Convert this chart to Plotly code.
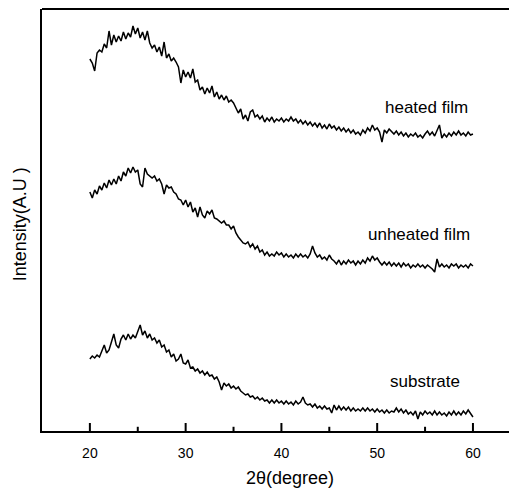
# XRD patterns: substrate vs unheated / heated film
# values (intensity in arbitrary units)
import plotly.graph_objects as go

# 2-theta grid, 20 -> 60 deg in 0.25 deg steps
two_theta = [20 + 0.25 * i for i in range(161)]

heated_film = [
    372, 368, 360, 378, 381, 379, 387, 383, 400, 386, 396, 389, 395, 390, 399, 392,
    398, 394, 405, 397, 403, 393, 399, 391, 400, 388, 383, 386, 379, 384, 375, 389,
    373, 377, 370, 373, 369, 364, 348, 361, 354, 359, 353, 362, 349, 351, 341, 344,
    337, 343, 338, 345, 334, 339, 332, 336, 331, 335, 329, 331, 328, 323, 318, 322,
    312, 316, 310, 319, 321, 314, 316, 312, 315, 309, 313, 310, 314, 309, 312, 310,
    313, 309, 312, 310, 314, 310, 312, 308, 311, 307, 310, 306, 309, 305, 308, 304,
    308, 303, 306, 302, 307, 303, 305, 301, 304, 300, 303, 299, 302, 298, 301, 297,
    299, 296, 301, 298, 303, 300, 306, 301, 303, 299, 289, 301, 298, 302, 299, 297,
    300, 296, 299, 295, 298, 294, 297, 295, 298, 294, 296, 293, 297, 300, 296, 299,
    295, 300, 306, 293, 297, 294, 298, 295, 299, 296, 300, 296, 298, 295, 299, 296,
    297,
]

unheated_film = [
    239, 233, 241, 237, 245, 241, 248, 243, 251, 246, 252, 247, 255, 250, 259, 255,
    263, 258, 264, 259, 261, 247, 244, 263, 257, 255, 253, 255, 250, 252, 247, 237,
    246, 243, 244, 239, 237, 232, 231, 226, 231, 224, 229, 219, 223, 214, 224, 216,
    213, 220, 217, 221, 213, 212, 210, 208, 210, 206, 206, 202, 205, 198, 194, 191,
    188, 187, 189, 184, 187, 182, 185, 179, 181, 176, 179, 175, 177, 175, 179, 176,
    178, 174, 177, 174, 176, 173, 177, 174, 177, 174, 176, 173, 177, 185, 178, 174,
    176, 172, 174, 171, 176, 172, 170, 167, 171, 166, 170, 167, 171, 168, 170, 166,
    170, 167, 171, 168, 173, 170, 175, 171, 173, 169, 166, 169, 166, 169, 165, 168,
    165, 168, 164, 168, 165, 167, 163, 166, 164, 167, 164, 166, 163, 166, 164, 162,
    159, 172, 164, 167, 164, 166, 163, 167, 165, 167, 163, 166, 164, 166, 163, 167,
    165,
]

substrate = [
    72, 75, 73, 76, 74, 80, 86, 78, 81, 89, 97, 86, 83, 92, 96, 91,
    97, 92, 96, 93, 99, 106, 96, 100, 93, 97, 91, 93, 88, 91, 84, 86,
    79, 81, 74, 77, 70, 72, 77, 68, 67, 71, 63, 64, 60, 62, 58, 60,
    56, 59, 55, 56, 52, 54, 49, 41, 48, 45, 47, 43, 45, 42, 44, 40,
    38, 36, 37, 34, 35, 32, 34, 31, 33, 30, 31, 28, 31, 28, 31, 28,
    30, 27, 30, 27, 29, 26, 30, 27, 29, 34, 28, 26, 27, 24, 27, 23,
    25, 22, 25, 22, 23, 18, 26, 21, 25, 21, 24, 21, 24, 20, 23, 20,
    22, 20, 23, 20, 23, 20, 22, 19, 22, 19, 21, 18, 21, 18, 20, 19,
    23, 19, 22, 18, 21, 17, 19, 16, 20, 12, 19, 16, 20, 17, 19, 16,
    20, 16, 19, 16, 18, 15, 19, 16, 20, 16, 19, 16, 20, 17, 21, 17,
    14,
]

major_ticks = [20, 30, 40, 50, 60]
minor_ticks = [25, 35, 45, 55]

labels = ['heated film', 'unheated film', 'substrate']
label_x = [55.2, 54.4, 55.0]
label_y = [324, 197, 50]

FONT = 'Liberation Sans'

fig = go.Figure()
for ys in [heated_film, unheated_film, substrate]:
    fig.add_trace(go.Scatter(x=two_theta, y=ys, mode='lines',
                             line=dict(color='black', width=1.5),
                             showlegend=False))

for txt, lx, ly in zip(labels, label_x, label_y):
    fig.add_annotation(x=lx, y=ly, text=txt, showarrow=False,
                       font=dict(family=FONT, size=17, color='black'))

# axis titles as annotations so the margins stay fixed
fig.add_annotation(x=0.522, y=-0.111, xref='paper', yref='paper',
                   xanchor='center', yanchor='middle', showarrow=False,
                   text='2θ(degree)', font=dict(family=FONT, size=18, color='black'))
fig.add_annotation(x=-0.046, y=0.49, xref='paper', yref='paper',
                   xanchor='center', yanchor='middle', showarrow=False, textangle=-90,
                   text='Intensity(A.U )', font=dict(family=FONT, size=18, color='black'))

# top frame line
fig.add_shape(type='line', xref='paper', yref='paper', x0=0, x1=1, y0=1, y1=1,
              line=dict(color='black', width=2))

# inward tick marks on the bottom axis (axis ticks were not showing up)
for t in major_ticks:
    fig.add_shape(type='line', xref='x', yref='paper', x0=t, x1=t, y0=0, y1=0.019,
                  line=dict(color='black', width=2))
for t in minor_ticks:
    fig.add_shape(type='line', xref='x', yref='paper', x0=t, x1=t, y0=0, y1=0.01,
                  line=dict(color='black', width=2))

# page body has an 8px margin, so the figure is sized to the visible window
fig.update_layout(
    width=509, height=482,
    margin=dict(l=34, r=0, t=1, b=59),
    plot_bgcolor='white', paper_bgcolor='white',
    font=dict(family=FONT, color='black'),
    xaxis=dict(
        range=[15, 64.6], showgrid=False, zeroline=False, automargin=False,
        showline=True, linecolor='black', linewidth=2,
        tickmode='array', tickvals=major_ticks, ticks='',
        tickfont=dict(family=FONT, size=14, color='black'),
        ticklabelstandoff=8,
    ),
    yaxis=dict(
        range=[0, 422], showgrid=False, zeroline=False, automargin=False,
        showline=True, linecolor='black', linewidth=2,
        showticklabels=False, ticks='',
    ),
)

fig.write_html("out.html")
